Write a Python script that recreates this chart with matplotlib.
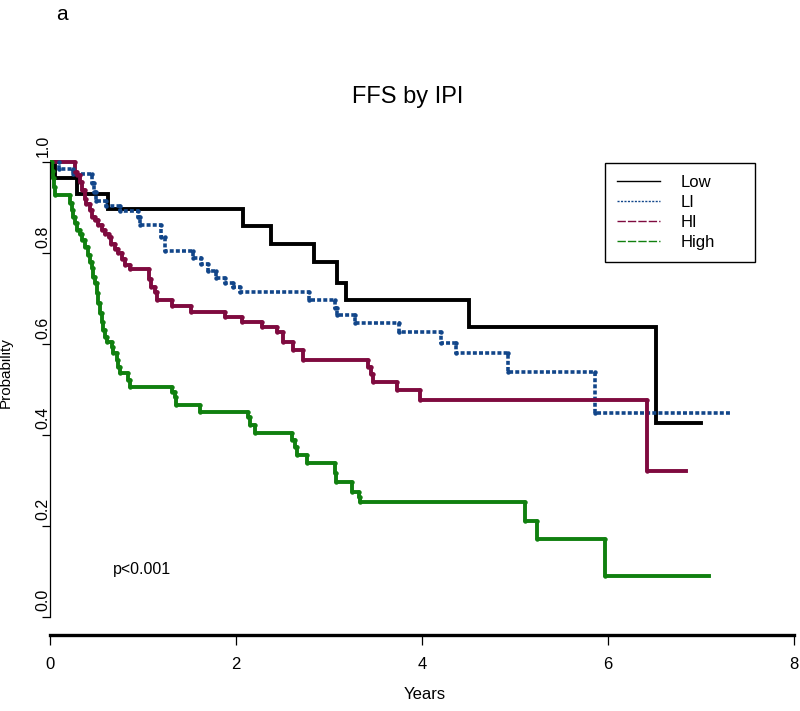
import matplotlib
matplotlib.use("Agg")
import matplotlib.pyplot as plt
from matplotlib.lines import Line2D

plt.rcParams['font.family'] = ['Liberation Sans Narrow', 'Liberation Sans', 'DejaVu Sans']

# Kaplan-Meier step data (time in years, survival probability)
low_t = [0, 0.05, 0.29, 0.62, 2.08, 2.38, 2.84, 3.09, 3.18, 4.50, 6.52, 7.00]
low_s = [1.0, 0.965, 0.93, 0.897, 0.86, 0.82, 0.78, 0.735, 0.697, 0.637, 0.426, 0.426]

li_t = [0, 0.10, 0.25, 0.45, 0.47, 0.49, 0.60, 0.75, 0.95, 0.97, 1.19, 1.24, 1.54, 1.62,
        1.70, 1.78, 1.88, 1.97, 2.04, 2.78, 3.06, 3.09, 3.28, 3.75, 4.20, 4.37, 4.93, 5.86, 7.33]
li_s = [1.0, 0.985, 0.975, 0.955, 0.935, 0.915, 0.903, 0.893, 0.88, 0.862, 0.835, 0.805, 0.79, 0.775,
        0.76, 0.745, 0.735, 0.725, 0.714, 0.697, 0.68, 0.663, 0.646, 0.626, 0.602, 0.58, 0.538, 0.448, 0.448]

hi_t = [0, 0.27, 0.29, 0.32, 0.34, 0.38, 0.39, 0.43, 0.45, 0.48, 0.52, 0.56, 0.59, 0.63, 0.66,
        0.70, 0.73, 0.77, 0.81, 0.86, 1.06, 1.09, 1.13, 1.15, 1.31, 1.52, 1.88, 2.06, 2.28, 2.44,
        2.50, 2.61, 2.72, 3.42, 3.45, 3.47, 3.73, 3.98, 6.42, 6.84]
hi_s = [1.0, 0.979, 0.971, 0.957, 0.938, 0.92, 0.909, 0.895, 0.88, 0.873, 0.862, 0.85, 0.843, 0.836, 0.821,
        0.81, 0.80, 0.788, 0.774, 0.766, 0.744, 0.726, 0.715, 0.697, 0.684, 0.671, 0.659, 0.648, 0.637, 0.626,
        0.605, 0.587, 0.565, 0.55, 0.533, 0.517, 0.499, 0.477, 0.32, 0.32]

high_t = [0, 0.02, 0.03, 0.04, 0.05, 0.215, 0.237, 0.247, 0.27, 0.29, 0.32, 0.344, 0.376, 0.41, 0.43,
          0.45, 0.46, 0.48, 0.505, 0.516, 0.538, 0.56, 0.57, 0.59, 0.613, 0.667, 0.677, 0.72, 0.73, 0.753,
          0.84, 0.86, 1.31, 1.34, 1.36, 1.61, 2.13, 2.15, 2.20, 2.60, 2.63, 2.66, 2.76, 3.06, 3.08,
          3.25, 3.32, 3.33, 5.11, 5.24, 5.97, 7.09]
high_s = [1.0, 0.98, 0.965, 0.946, 0.928, 0.91, 0.895, 0.88, 0.866, 0.85, 0.843, 0.829, 0.814, 0.795, 0.78,
          0.767, 0.748, 0.734, 0.712, 0.69, 0.668, 0.648, 0.631, 0.615, 0.604, 0.593, 0.58, 0.565, 0.55, 0.536,
          0.52, 0.506, 0.495, 0.484, 0.466, 0.45, 0.44, 0.422, 0.404, 0.389, 0.374, 0.356, 0.338, 0.316, 0.297,
          0.275, 0.264, 0.253, 0.211, 0.171, 0.09, 0.09]

groups = ['Low', 'LI', 'HI', 'High']
colors = {'Low': 'black', 'LI': '#12468a', 'HI': '#7f0a3f', 'High': '#10800f'}
x_ticks = [0, 2, 4, 6, 8]
y_ticks = [0.0, 0.2, 0.4, 0.6, 0.8, 1.0]
y_tick_labels = ['0.0', '0.2', '0.4', '0.6', '0.8', '1.0']


def corners(t, s):
    # the points at the top and bottom of every drop, where the dots sit
    xs, ys = [], []
    for i in range(1, len(t) - 1):
        xs += [t[i], t[i]]
        ys += [s[i - 1], s[i]]
    return xs, ys


fig = plt.figure(figsize=(8, 7.11), dpi=100)
ax = fig.add_axes([0.0625, 0.1069, 0.93, 0.6906])

ax.step(low_t, low_s, where='post', color=colors['Low'], lw=2.8, solid_joinstyle='miter')
ax.step(li_t, li_s, where='post', color=colors['LI'], lw=2.6, linestyle=(0, (1.1, 0.6)))
ax.step(hi_t, hi_s, where='post', color=colors['HI'], lw=2.8)
ax.step(high_t, high_s, where='post', color=colors['High'], lw=2.8)

for name, t, s in [('LI', li_t, li_s), ('HI', hi_t, hi_s), ('High', high_t, high_s)]:
    cx, cy = corners(t, s)
    ax.plot(cx, cy, 'o', color=colors[name], ms=3.2, mew=0)

ax.set_xlim(0, 8)
ax.set_ylim(-0.04, 1.04)
ax.spines['top'].set_visible(False)
ax.spines['right'].set_visible(False)
ax.spines['left'].set_bounds(0, 1)
ax.spines['left'].set_linewidth(0.9)
ax.spines['bottom'].set_bounds(0, 8)
ax.spines['bottom'].set_linewidth(2.4)

ax.set_xticks(x_ticks)
ax.set_xticklabels([str(v) for v in x_ticks], fontsize=12)
ax.tick_params(axis='x', length=7, width=0.9, pad=9)
ax.set_yticks(y_ticks)
ax.set_yticklabels([])
ax.tick_params(axis='y', length=6, width=0.9)
for v, lab in zip(y_ticks, y_tick_labels):
    ax.text(0.001, v + 0.012, lab, transform=ax.get_yaxis_transform(), rotation=90,
            ha='right', va='bottom', fontsize=11.5)

ax.set_xlabel('Years', fontsize=12)
ax.xaxis.set_label_coords(0.503, -0.106)
ax.set_ylabel('Probability', fontsize=11)
ax.yaxis.set_label_coords(-0.05, 0.535)
ax.text(0.99, 0.103, 'p<0.001', fontsize=11.5, ha='center', va='center')

fig.text(0.51, 0.863, 'FFS by IPI', fontsize=17, ha='center', va='center')
fig.text(0.078, 0.979, 'a', fontsize=15, ha='center', va='center')

handles = [
    Line2D([], [], color=colors['Low'], lw=1.0),
    Line2D([], [], color=colors['LI'], lw=1.0, linestyle=(0, (1.5, 1.0))),
    Line2D([], [], color=colors['HI'], lw=1.0, linestyle=(0, (6, 1.5))),
    Line2D([], [], color=colors['High'], lw=1.0, linestyle=(0, (6, 1.5))),
]
leg = ax.legend(handles, groups, loc='upper left', bbox_to_anchor=(0.746, 0.60, 0.202, 0.361),
                mode='expand', fontsize=12, frameon=True, fancybox=False, handlelength=2.6,
                handletextpad=1.2, labelspacing=0.3, borderpad=0.72, borderaxespad=0)
leg.get_frame().set_edgecolor('black')
leg.get_frame().set_linewidth(1.0)
leg.get_frame().set_alpha(1)

fig.savefig('out.png', dpi=100)
